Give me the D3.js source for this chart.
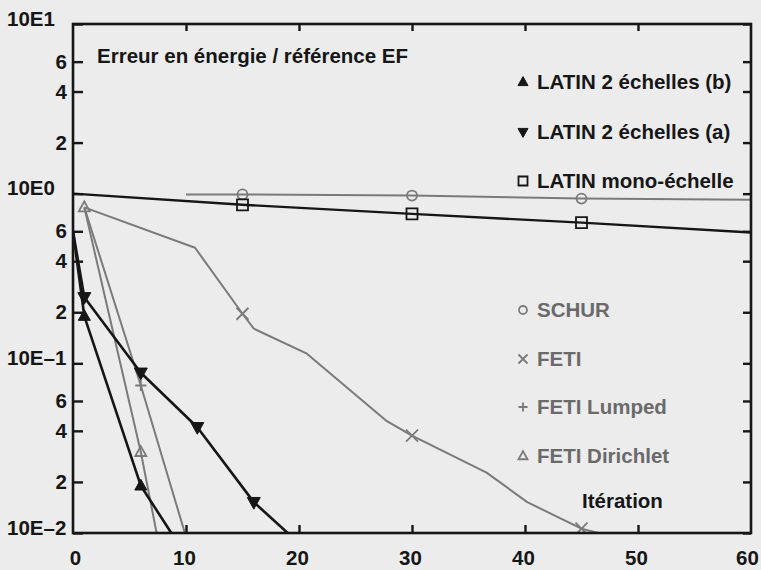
<!DOCTYPE html>
<html lang="fr">
<head>
  <meta charset="UTF-8" />
  <title>Erreur en énergie / référence EF</title>
  <style>
    body { margin: 0; background: #ececec; }
    svg { display: block; font-family: "Liberation Sans", Arial, sans-serif; font-weight: bold; }
  </style>
</head>
<body>
  <svg id="chart"></svg>
  <script src="https://d3js.org/d3.v7.min.js"></script>
  <script>
    // iteration / error pairs
    const latinB = [[0, 0.6], [1, 0.19], [6, 0.019], [8.7, 0.01]];
    const latinA = [[0, 0.6], [1, 0.245], [6, 0.088], [11, 0.042], [16, 0.0152], [19, 0.01]];
    const latinMono = [[0, 1.0], [15, 0.86], [30, 0.76], [45, 0.675], [60, 0.59]];
    const schur = [[10, 0.99], [15, 0.99], [30, 0.975], [45, 0.935], [60, 0.92]];
    const feti = [[1, 0.83], [10.8, 0.48], [15, 0.196], [16, 0.16], [20.7, 0.114], [27.7, 0.046],
                  [30, 0.0375], [36.6, 0.0227], [40.2, 0.0152], [45, 0.0106], [46.5, 0.01]];
    const fetiLumped = [[1, 0.83], [6, 0.074], [9.9, 0.01]];
    const fetiDirichlet = [[1, 0.83], [6, 0.03], [7.4, 0.01]];

    // iterations carrying a marker
    const latinBMarks = [1, 6];
    const latinAMarks = [1, 6, 11, 16];
    const monoMarks = [15, 30, 45];
    const schurMarks = [15, 30, 45];
    const fetiMarks = [15, 30, 45];
    const lumpedMarks = [6];
    const dirichletMarks = [1, 6];

    const xTickLabels = [0, 10, 20, 30, 40, 50, 60];
    const xInnerTicks = [10, 20, 30, 40, 50];
    const yMajor = [0.01, 0.1, 1, 10];
    const yMajorLabels = ["10E–2", "10E–1", "10E0", "10E1"];
    const yMinor = [0.02, 0.04, 0.06, 0.2, 0.4, 0.6, 2, 4, 6];

    const legendLabels = ["LATIN 2 échelles (b)", "LATIN 2 échelles (a)", "LATIN mono-échelle",
                          "SCHUR", "FETI", "FETI Lumped", "FETI Dirichlet"];

    const W = 761, H = 570;
    const pL = 73, pR = 751, pT = 24, pB = 533;
    const black = "#161616", gray = "#7a7a7a", grayText = "#6a6a6a";
    const fs = "20.5px";

    const svg = d3.select("#chart").attr("width", W).attr("height", H);
    svg.append("rect").attr("width", W).attr("height", H).attr("fill", "#ececec");

    const x = d3.scaleLinear().domain([0, 60]).range([pL, pR]);
    const y = d3.scaleLog().domain([0.01, 10]).range([pB, pT]);

    svg.append("defs").append("clipPath").attr("id", "plot")
      .append("rect").attr("x", pL).attr("y", pT)
      .attr("width", pR - pL).attr("height", pB - pT);

    // marker paths
    function triUp(s) { const h = s * 0.9; return `M0,${-h * 0.6}L${s / 2},${h * 0.4}L${-s / 2},${h * 0.4}Z`; }
    function triDown(s) { const h = s * 0.9; return `M0,${h * 0.6}L${s / 2},${-h * 0.4}L${-s / 2},${-h * 0.4}Z`; }
    function square(s) { const r = s / 2; return `M${-r},${-r}H${r}V${r}H${-r}Z`; }
    function times(s) { const r = s / 2; return `M${-r},${-r}L${r},${r}M${r},${-r}L${-r},${r}`; }
    function plus(s) { const r = s / 2; return `M${-r},0H${r}M0,${-r}V${r}`; }

    const styles = [
      { data: latinB, marks: latinBMarks, color: black, width: 2.6, path: triUp, size: 12, fill: true },
      { data: latinA, marks: latinAMarks, color: black, width: 2.6, path: triDown, size: 13, fill: true },
      { data: latinMono, marks: monoMarks, color: black, width: 2.4, path: square, size: 11, fill: false },
      { data: schur, marks: schurMarks, color: gray, width: 2, path: "circle", size: 10, fill: false },
      { data: feti, marks: fetiMarks, color: gray, width: 2, path: times, size: 12, fill: false },
      { data: fetiLumped, marks: lumpedMarks, color: gray, width: 2, path: plus, size: 11, fill: false },
      { data: fetiDirichlet, marks: dirichletMarks, color: gray, width: 2, path: triUp, size: 11, fill: false }
    ];

    const line = d3.line().x(d => x(d[0])).y(d => y(d[1]));
    const plot = svg.append("g").attr("clip-path", "url(#plot)");

    // draw gray series first so the black ones sit on top
    const order = [3, 4, 5, 6, 2, 1, 0];
    order.forEach(i => {
      const s = styles[i];
      plot.append("path").datum(s.data)
        .attr("d", line).attr("fill", "none")
        .attr("stroke", s.color).attr("stroke-width", s.width)
        .attr("stroke-linejoin", "round");
    });

    function drawMarker(g, s, cx, cy, size) {
      if (s.path === "circle") {
        g.append("circle").attr("cx", cx).attr("cy", cy).attr("r", size / 2)
          .attr("fill", "none").attr("stroke", s.color).attr("stroke-width", 1.8);
      } else {
        g.append("path").attr("d", s.path(size))
          .attr("transform", `translate(${cx},${cy})`)
          .attr("fill", s.fill ? s.color : "none")
          .attr("stroke", s.color).attr("stroke-width", s.fill ? 1 : 1.8);
      }
    }

    order.forEach(i => {
      const s = styles[i];
      s.marks.forEach(it => {
        const p = s.data.find(d => d[0] === it);
        if (p) drawMarker(plot, s, x(p[0]), y(p[1]), s.size);
      });
    });

    // frame
    svg.append("rect").attr("x", pL).attr("y", pT)
      .attr("width", pR - pL).attr("height", pB - pT)
      .attr("fill", "none").attr("stroke", black).attr("stroke-width", 2.6);

    // left axis: inward ticks, minor labels right aligned, decade labels on the far left
    const leftAxis = svg.append("g").attr("transform", `translate(${pL},0)`)
      .call(d3.axisLeft(y).tickValues(yMajor.concat(yMinor))
        .tickSizeInner(-10).tickSizeOuter(0).tickPadding(6)
        .tickFormat(d => {
          const k = yMajor.indexOf(d);
          return k >= 0 ? yMajorLabels[k] : String(Math.round(d / Math.pow(10, Math.floor(Math.log10(d) + 1e-9))));
        }));
    leftAxis.select(".domain").remove();
    leftAxis.selectAll("line").attr("stroke", black).attr("stroke-width", 2.4);
    leftAxis.selectAll("text").attr("fill", black).style("font-size", fs).attr("font-family", null);
    leftAxis.selectAll(".tick").filter(d => yMajor.includes(d)).select("text")
      .attr("text-anchor", "start").attr("x", 7 - pL).attr("dy", "0.05em");

    // right axis: ticks only
    const rightAxis = svg.append("g").attr("transform", `translate(${pR},0)`)
      .call(d3.axisRight(y).tickValues(yMajor.concat(yMinor))
        .tickSizeInner(-8).tickSizeOuter(0).tickFormat(""));
    rightAxis.select(".domain").remove();
    rightAxis.selectAll("line").attr("stroke", black).attr("stroke-width", 2.4);

    // top axis: ticks only
    const topAxis = svg.append("g").attr("transform", `translate(0,${pT})`)
      .call(d3.axisTop(x).tickValues(xInnerTicks).tickSizeInner(-7).tickSizeOuter(0).tickFormat(""));
    topAxis.select(".domain").remove();
    topAxis.selectAll("line").attr("stroke", black).attr("stroke-width", 2.4);

    // bottom axis: inward ticks at 10..50, labels 0..60
    const botAxis = svg.append("g").attr("transform", `translate(0,${pB})`)
      .call(d3.axisBottom(x).tickValues(xTickLabels).tickSizeInner(-8).tickSizeOuter(0).tickPadding(17));
    botAxis.select(".domain").remove();
    botAxis.selectAll("line").attr("stroke", black).attr("stroke-width", 2.4)
      .filter(d => !xInnerTicks.includes(d)).remove();
    botAxis.selectAll("text").attr("fill", black).style("font-size", fs).attr("font-family", null)
      .attr("dx", d => d === 0 ? 2 : (d === 60 ? -4 : -2));

    // texts inside the plot
    svg.append("text").attr("x", 97).attr("y", 63).attr("fill", black)
      .style("font-size", fs).text("Erreur en énergie / référence EF");
    svg.append("text").attr("x", 582).attr("y", 508).attr("fill", black)
      .style("font-size", fs).text("Itération");

    // legend
    const legendY = [82, 132, 181, 310, 359, 407, 456];
    const legend = svg.append("g");
    legendLabels.forEach((label, i) => {
      const s = styles[i];
      drawMarker(legend, s, 523, legendY[i], s.fill ? 10 : (s.path === "circle" ? 8 : 9));
      legend.append("text").attr("x", 537).attr("y", legendY[i] + 7)
        .attr("fill", s.color === black ? black : grayText)
        .style("font-size", fs).text(label);
    });
  </script>
</body>
</html>
